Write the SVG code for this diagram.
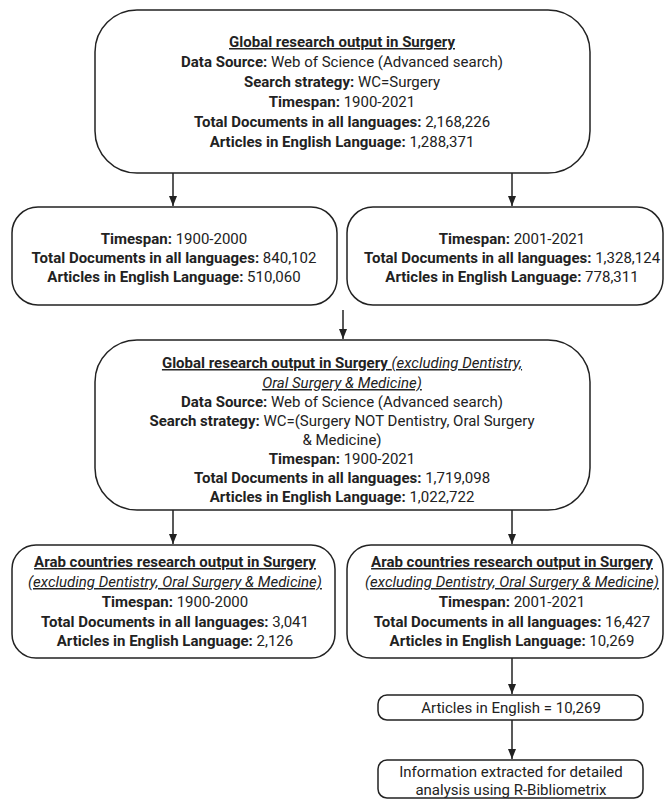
<svg xmlns="http://www.w3.org/2000/svg" width="664" height="800" viewBox="0 0 664 800">
<defs>
<marker id="ah" markerUnits="userSpaceOnUse" markerWidth="10" markerHeight="8" refX="10" refY="4" orient="auto" viewBox="0 0 10 8">
<path d="M0,0 L10,4 L0,8 z" fill="#222"/>
</marker>
<style>
.box{fill:#fff;stroke:#222;stroke-width:1.5}
.t{font-family:Roboto,"Liberation Sans",sans-serif;font-size:15px;fill:#222;text-anchor:middle}
.b{font-weight:bold}
.u{text-decoration:underline}
.i{font-style:italic}
.c{stroke:#222;stroke-width:1.5;fill:none;marker-end:url(#ah)}
</style>
</defs>
<rect width="664" height="800" fill="#fff"/>
<g id="connectors">
<line class="c" x1="173" y1="173" x2="173" y2="206"/>
<line class="c" x1="512" y1="173" x2="512" y2="206"/>
<line class="c" x1="343" y1="310" x2="343" y2="339"/>
<line class="c" x1="173" y1="510" x2="173" y2="544"/>
<line class="c" x1="512" y1="510" x2="512" y2="544"/>
<line class="c" x1="512" y1="658" x2="512" y2="694"/>
<line class="c" x1="512" y1="720" x2="512" y2="759"/>
</g>
<g id="n1">
<rect class="box" x="95" y="10" width="495" height="163" rx="42"/>
<text class="t" x="342" y="47"><tspan class="b u">Global research output in Surgery</tspan></text>
<text class="t" x="342" y="67"><tspan class="b">Data Source:</tspan> Web of Science (Advanced search)</text>
<text class="t" x="342" y="87"><tspan class="b">Search strategy:</tspan> WC=Surgery</text>
<text class="t" x="342" y="107"><tspan class="b">Timespan:</tspan> 1900-2021</text>
<text class="t" x="342" y="127"><tspan class="b">Total Documents in all languages:</tspan> 2,168,226</text>
<text class="t" x="342" y="147"><tspan class="b">Articles in English Language:</tspan> 1,288,371</text>
</g>
<g id="n2">
<rect class="box" x="12" y="207" width="325" height="98" rx="26"/>
<text class="t" x="174" y="244"><tspan class="b">Timespan:</tspan> 1900-2000</text>
<text class="t" x="174" y="263"><tspan class="b">Total Documents in all languages:</tspan> 840,102</text>
<text class="t" x="174" y="282"><tspan class="b">Articles in English Language:</tspan> 510,060</text>
</g>
<g id="n3">
<rect class="box" x="347" y="207" width="316" height="98" rx="26"/>
<text class="t" x="512" y="244"><tspan class="b">Timespan:</tspan> 2001-2021</text>
<text class="t" x="512" y="263"><tspan class="b">Total Documents in all languages:</tspan> 1,328,124</text>
<text class="t" x="512" y="282"><tspan class="b">Articles in English Language:</tspan> 778,311</text>
</g>
<g id="n4">
<rect class="box" x="95" y="340" width="495" height="170" rx="42"/>
<text class="t u" x="342" y="368"><tspan class="b">Global research output in Surgery</tspan> <tspan class="i">(excluding Dentistry, </tspan></text>
<text class="t u i" x="342" y="388">Oral Surgery &amp; Medicine)</text>
<text class="t" x="342" y="407"><tspan class="b">Data Source:</tspan> Web of Science (Advanced search)</text>
<text class="t" x="342" y="426"><tspan class="b">Search strategy:</tspan> WC=(Surgery NOT Dentistry, Oral Surgery</text>
<text class="t" x="342" y="445">&amp; Medicine)</text>
<text class="t" x="342" y="464"><tspan class="b">Timespan:</tspan> 1900-2021</text>
<text class="t" x="342" y="483"><tspan class="b">Total Documents in all languages:</tspan> 1,719,098</text>
<text class="t" x="342" y="502"><tspan class="b">Articles in English Language:</tspan> 1,022,722</text>
</g>
<g id="n5">
<rect class="box" x="12" y="545" width="323" height="113" rx="24"/>
<text class="t b u" x="175" y="567">Arab countries research output in Surgery</text>
<text class="t i u" x="175" y="587">(excluding Dentistry, Oral Surgery &amp; Medicine)</text>
<text class="t" x="175" y="607"><tspan class="b">Timespan:</tspan> 1900-2000</text>
<text class="t" x="175" y="627"><tspan class="b">Total Documents in all languages:</tspan> 3,041</text>
<text class="t" x="175" y="646"><tspan class="b">Articles in English Language:</tspan> 2,126</text>
</g>
<g id="n6">
<rect class="box" x="347" y="545" width="316" height="113" rx="24"/>
<text class="t b u" x="512" y="567">Arab countries research output in Surgery</text>
<text class="t i u" x="512" y="587">(excluding Dentistry, Oral Surgery &amp; Medicine)</text>
<text class="t" x="512" y="607"><tspan class="b">Timespan:</tspan> 2001-2021</text>
<text class="t" x="512" y="627"><tspan class="b">Total Documents in all languages:</tspan> 16,427</text>
<text class="t" x="512" y="646"><tspan class="b">Articles in English Language:</tspan> 10,269</text>
</g>
<g id="n7">
<rect class="box" x="378" y="695" width="265" height="25" rx="9"/>
<text class="t" x="511" y="713">Articles in English = 10,269</text>
</g>
<g id="n8">
<rect class="box" x="378" y="760" width="265" height="38" rx="9"/>
<text class="t" x="511" y="777">Information extracted for detailed</text>
<text class="t" x="511" y="795">analysis using R-Bibliometrix</text>
</g>
</svg>
